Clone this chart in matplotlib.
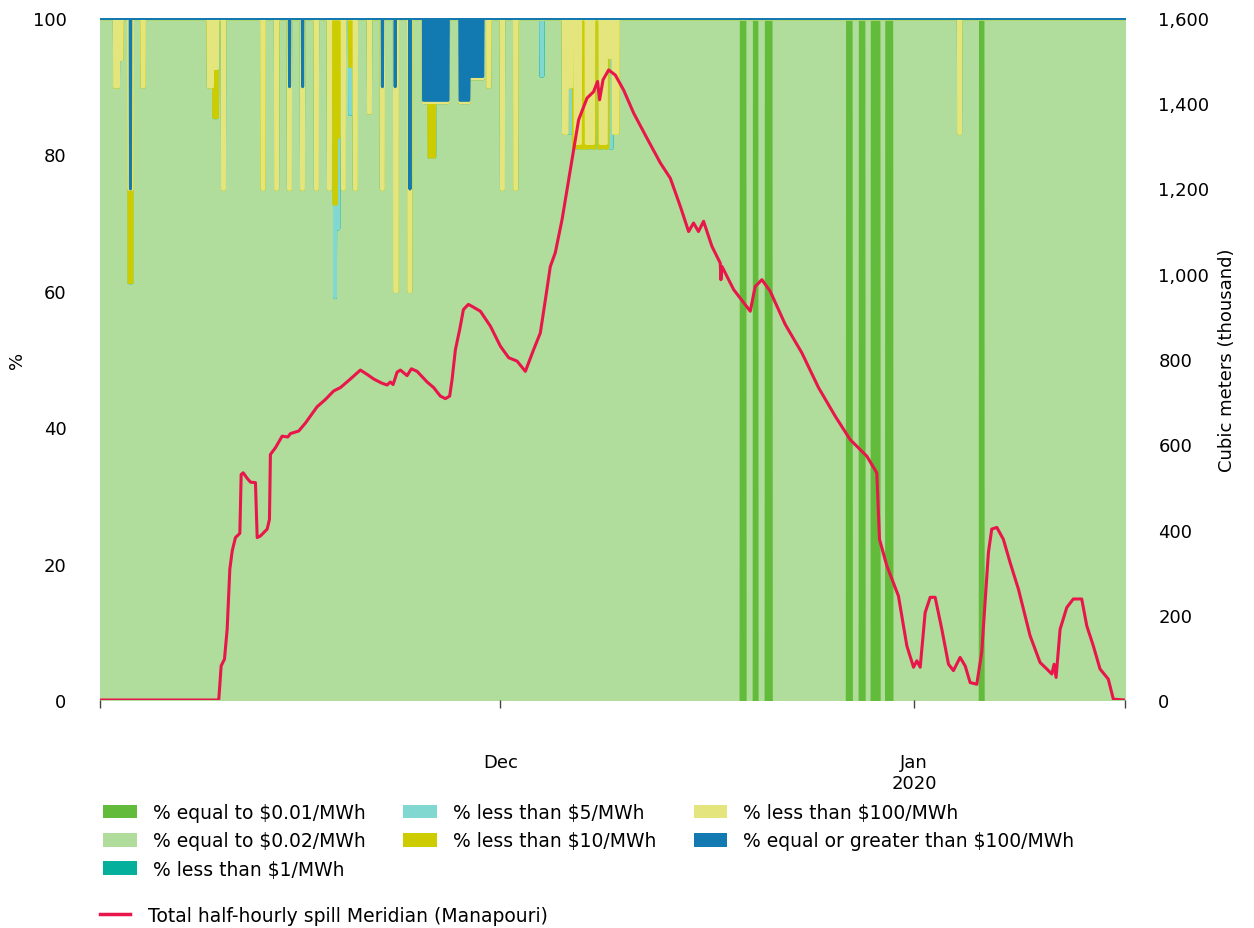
import numpy as np
import pandas as pd
import matplotlib
matplotlib.use('Agg')
import matplotlib.pyplot as plt
from matplotlib.patches import Patch
from matplotlib.lines import Line2D
from matplotlib.ticker import FuncFormatter

start = pd.Timestamp('2019-11-01')
end_day = 76.79  # data runs to the evening of 16 Jan

# Price band shares (%) during spill, as episodes in days since 1 Nov.
# Anything not listed is at $0.02/MWh.
ev_start = [1.08, 1.37, 2.14, 2.23, 3.13, 8.10, 8.48, 9.16, 12.12, 13.13,
            14.10, 14.15, 15.07, 15.14, 16.12, 17.09, 17.50, 17.58, 17.72, 18.14,
            18.67, 19.04, 20.09, 21.06, 21.11, 22.05, 22.07, 23.12, 23.17, 24.20,
            24.62, 26.92, 27.62, 29.03, 30.05, 31.06, 33.01, 34.70, 34.95,
            35.45, 35.57, 35.95, 36.28, 36.40, 36.92, 37.33, 37.45, 37.88,
            38.12, 38.43, 64.30]
ev_end = [1.35, 1.60, 2.36, 2.25, 3.25, 8.38, 8.76, 9.28, 12.24, 13.25,
          14.22, 14.17, 15.19, 15.16, 16.24, 17.21, 17.68, 17.60, 17.85, 18.26,
          18.79, 19.16, 20.21, 21.18, 21.13, 22.22, 22.09, 23.24, 23.19, 26.05,
          25.03, 27.62, 28.65, 29.15, 30.17, 31.18, 33.13, 34.95, 35.30,
          35.57, 35.95, 36.07, 36.40, 36.92, 37.04, 37.45, 37.88, 38.00,
          38.30, 38.77, 64.42]
ev_lt5 = [0, 0, 0, 0, 0, 0, 0, 0, 0, 0,
          0, 0, 0, 0, 0, 0, 0, 13.7, 13.4, 0,
          7.0, 0, 0, 0, 0, 0, 0, 0, 0, 0,
          0, 0, 0, 0, 0, 0, 8.4, 0, 6.8,
          0, 0, 0, 0, 0, 0, 0, 0, 0,
          13.3, 0, 0]
ev_lt10 = [0, 0, 13.7, 13.7, 0, 0, 7.2, 0, 0, 0,
           0, 0, 0, 0, 0, 0, 27.2, 27.2, 17.4, 0,
           7.0, 0, 0, 0, 0, 0, 0, 0, 0, 0,
           8.0, 0, 0, 0, 0, 0, 0, 0, 0,
           19.0, 0.6, 19.0, 19.0, 0.6, 19.0, 19.0, 0.6, 19.0,
           0, 0, 0]
ev_lt100 = [10, 6, 25, 0, 10, 10, 7.3, 25, 25, 25,
            25, 15, 25, 15, 25, 25, 0, 0, 0, 25,
            0, 25, 13.8, 25, 15, 40, 30, 40, 15, 0.3,
            0.3, 0.3, 0.3, 10, 25, 25, 0, 16.8, 10,
            0, 18.3, 0, 0, 18.3, 0, 0, 18.3, 0,
            5.7, 16.8, 16.8]
ev_ge100 = [0, 0, 0, 25, 0, 0, 0, 0, 0, 0,
            0, 10, 0, 10, 0, 0, 0, 0, 0, 0,
            0, 0, 0, 0, 10, 0, 10, 0, 25, 12,
            12, 12, 8.5, 0, 0, 0, 0, 0, 0,
            0, 0, 0, 0, 0, 0, 0, 0, 0,
            0, 0, 0]

# periods priced entirely at $0.01/MWh
low_start = [47.77, 48.74, 49.64, 55.71, 56.68, 57.58, 58.66, 65.67]
low_end = [48.53, 49.43, 50.48, 56.48, 57.45, 58.58, 59.54, 66.36]

# total half-hourly spill at Manapouri (thousand m3)
spill_day = [0.0, 8.90, 9.08, 9.33, 9.53, 9.73, 9.91, 10.15, 10.48, 10.58,
             10.73, 11.03, 11.28, 11.65, 11.78, 12.03, 12.53, 12.70, 12.77, 13.15,
             13.65, 14.07, 14.27, 14.89, 15.40, 15.77, 16.27, 16.89, 17.51, 18.02,
             18.76, 19.51, 20.01, 20.51, 21.14, 21.51, 21.76, 21.96, 22.26, 22.51,
             23.01, 23.33, 23.76, 24.51, 25.00, 25.50, 25.88, 26.20, 26.38, 26.63,
             26.95, 27.23, 27.60, 27.90, 28.50, 29.25, 30.00, 30.62, 31.25, 31.87,
             32.49, 32.99, 33.37, 33.74, 34.11, 34.62, 34.99, 35.48, 35.86, 36.49,
             36.98, 37.28, 37.43, 37.69, 38.11, 38.61, 39.23, 39.98, 40.98, 41.98,
             42.73, 43.48, 44.10, 44.47, 44.84, 45.22, 45.85, 46.47, 46.52, 46.60,
             47.47, 48.72, 49.09, 49.59, 50.21, 51.34, 52.59, 53.83, 55.08, 56.20,
             57.45, 58.20, 58.40, 58.95, 59.82, 60.45, 60.95, 61.20, 61.45, 61.82,
             62.20, 62.57, 63.07, 63.57, 63.94, 64.44, 64.82, 65.19, 65.69, 66.06,
             66.56, 66.81, 67.19, 67.68, 68.18, 68.81, 69.68, 70.43, 70.93, 71.31,
             71.48, 71.63, 71.93, 72.43, 72.92, 73.55, 73.93, 74.42, 74.92, 75.54,
             75.92, 76.79]
spill_val = [0, 0, 80, 96, 166, 307, 350, 381, 391, 529,
             533, 520, 511, 510, 381, 385, 401, 424, 576, 592,
             619, 617, 625, 631, 650, 666, 688, 705, 725, 733,
             753, 774, 764, 753, 743, 739, 746, 740, 769, 774,
             761, 777, 771, 746, 733, 713, 707, 713, 752, 822,
             869, 916, 928, 923, 912, 877, 830, 803, 795, 771,
             822, 861, 939, 1017, 1049, 1127, 1197, 1291, 1361, 1412,
             1427, 1451, 1408, 1455, 1478, 1466, 1431, 1377, 1318, 1260,
             1224, 1158, 1099, 1119, 1099, 1123, 1064, 1025, 986, 1017,
             963, 912, 970, 986, 959, 881, 814, 733, 666, 611,
             572, 533, 377, 315, 244, 127, 77, 92, 77, 205,
             241, 241, 166, 84, 69, 100, 80, 41, 37, 112,
             346, 401, 405, 377, 323, 260, 151, 88, 73, 61,
             84, 53, 166, 217, 237, 237, 174, 127, 73, 49,
             2, 0]

labels = ['% equal to $0.01/MWh', '% equal to $0.02/MWh', '% less than $1/MWh',
          '% less than $5/MWh', '% less than $10/MWh', '% less than $100/MWh',
          '% equal or greater than $100/MWh']
colors = ['#62bb3a', '#b0dd9b', '#04b09b', '#80d8d0', '#cccc00', '#e4e57d', '#127ab0']
edge_widths = [2.5, 2.5, 2.5, 2.5, 2.5, 2.5, 2.2]
line_color = '#e8164a'

# half-hourly grid
t = np.arange(0, end_day, 1 / 48)
n = len(t)
eq001 = np.zeros(n)
lt1 = np.zeros(n)
lt5 = np.zeros(n)
lt10 = np.zeros(n)
lt100 = np.zeros(n)
ge100 = np.zeros(n)
for s, e, a, b, c, d in zip(ev_start, ev_end, ev_lt5, ev_lt10, ev_lt100, ev_ge100):
    m = (t >= s - 1e-9) & (t <= e + 1e-9)
    if not m.any():
        gap = np.abs(t - (s + e) / 2)
        m = gap == gap.min()
    lt5[m] = a
    lt10[m] = b
    lt100[m] = c
    ge100[m] = d
for s, e in zip(low_start, low_end):
    m = (t >= s) & (t <= e)
    eq001[m] = 100
eq002 = 100 - eq001 - lt1 - lt5 - lt10 - lt100 - ge100
layers = [eq001, eq002, lt1, lt5, lt10, lt100, ge100]

x = start + pd.to_timedelta(t, unit='D')
xs = start + pd.to_timedelta(np.array(spill_day), unit='D')

fig = plt.figure(figsize=(12.54, 9.29), dpi=100)
ax = fig.add_axes([0.0797, 0.2454, 0.8174, 0.7342])

base = np.zeros(n)
for vals, col, lw in zip(layers, colors, edge_widths):
    top = base + vals
    ax.fill_between(x, base, top, facecolor=col, edgecolor=col, linewidth=lw, joinstyle='round')
    base = top

ax.set_ylim(0, 100)
ax.set_xlim(start, start + pd.Timedelta(days=end_day))
ax.set_yticks([0, 20, 40, 60, 80, 100])
ax.set_ylabel('%', fontsize=13, labelpad=5)
ax.tick_params(axis='y', length=0, pad=24, labelsize=13)

xt = [start, pd.Timestamp('2019-12-01'), pd.Timestamp('2020-01-01'),
      start + pd.Timedelta(days=end_day)]
ax.set_xticks(xt)
ax.set_xticklabels(['', 'Dec', 'Jan\n2020', ''])
ax.tick_params(axis='x', length=6, width=1, color='#444444', pad=32, labelsize=13)

ax2 = ax.twinx()
ax2.plot(xs, spill_val, color=line_color, linewidth=2.2, solid_joinstyle='round')
ax2.set_ylim(0, 1600)
ax2.set_yticks(range(0, 1601, 200))
ax2.yaxis.set_major_formatter(FuncFormatter(lambda v, p: f'{int(v):,}'))
ax2.tick_params(axis='y', length=0, pad=24, labelsize=13)
ax2.set_ylabel('Cubic meters (thousand)', fontsize=13, labelpad=6)

for a in (ax, ax2):
    for sp in a.spines.values():
        sp.set_visible(False)

handles = [Patch(facecolor=c, edgecolor='none') for c in colors]
fig.legend(handles, labels, loc='upper left', bbox_to_anchor=(103 / 1254, 1 - 804 / 929),
           ncol=3, frameon=False, fontsize=13.5, handlelength=1.8, handleheight=0.75,
           handletextpad=0.85, columnspacing=2.0, labelspacing=0.5,
           borderaxespad=0, borderpad=0)
fig.legend([Line2D([], [], color=line_color, linewidth=2.5)],
           ['Total half-hourly spill Meridian (Manapouri)'],
           loc='upper left', bbox_to_anchor=(100 / 1254, 1 - 907 / 929),
           frameon=False, fontsize=13.5, handlelength=1.6, handletextpad=0.96,
           borderaxespad=0, borderpad=0)

fig.savefig('out.png', dpi=100)
